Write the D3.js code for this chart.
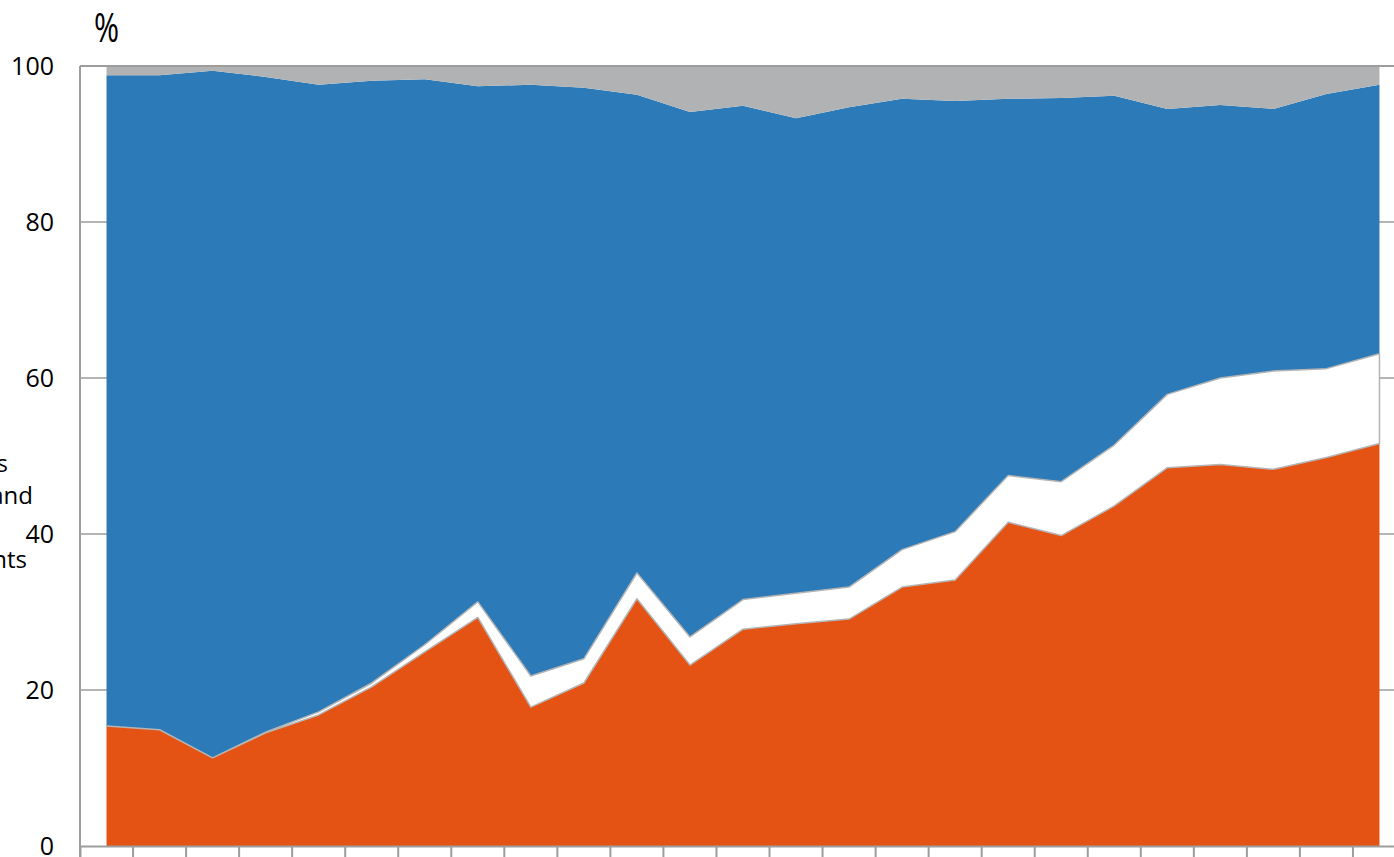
<!DOCTYPE html>
<html>
<head>
<meta charset="utf-8">
<script src="https://cdn.jsdelivr.net/npm/d3@7"></script>
<style>
  body { margin: 0; background: #fff; }
  svg { display: block; font-family: "Open Sans", sans-serif; }
</style>
</head>
<body>
<div id="chart"></div>
<script>
const years = d3.range(1995, 2020).map(String);

// layer shares in percent
const orangeShare = [15.4, 14.9, 11.3, 14.5, 16.8, 20.4, 24.9, 29.3, 17.8, 20.9, 31.7, 23.2, 27.8, 28.5, 29.1, 33.2, 34.1, 41.5, 39.8, 43.6, 48.5, 48.9, 48.3, 49.8, 51.6];
const whiteShare  = [0.0, 0.0, 0.0, 0.1, 0.4, 0.5, 0.9, 2.0, 4.0, 3.1, 3.3, 3.6, 3.8, 3.9, 4.1, 4.8, 6.2, 6.0, 6.9, 7.8, 9.4, 11.1, 12.6, 11.4, 11.5];
const blueShare   = [83.4, 83.9, 88.1, 84.0, 80.4, 77.2, 72.5, 66.1, 75.8, 73.2, 61.3, 67.3, 63.3, 60.9, 61.5, 57.8, 55.2, 48.3, 49.2, 44.8, 36.6, 35.0, 33.6, 35.2, 34.5];
const greyShare   = years.map((d, i) => +(100 - orangeShare[i] - whiteShare[i] - blueShare[i]).toFixed(1));

const yTicks = [0, 20, 40, 60, 80, 100];
const sideLabel = ["Debt securities", "Shares and", "Other instruments"];

const layers = ["orange", "white", "blue", "grey"];
const colours = {orange: "#e55314", white: "#ffffff", blue: "#2c7bb8", grey: "#b1b2b4"};

const table = years.map((y, i) => ({
  year: y, orange: orangeShare[i], white: whiteShare[i], blue: blueShare[i], grey: greyShare[i]
}));

const width = 1394;
const height = 857;
const margin = {top: 66, left: 80, bottom: 11};

const svg = d3.select("#chart").append("svg")
  .attr("width", width)
  .attr("height", height);

const x = d3.scaleBand()
  .domain(years)
  .range([margin.left, margin.left + years.length * 53.04]);

const y = d3.scaleLinear()
  .domain([0, 100])
  .range([height - margin.bottom, margin.top]);

const cx = d => x(d) + x.bandwidth() / 2;

// grid under the areas
svg.append("g")
  .selectAll("line")
  .data(yTicks.filter(t => t > 0 && t < 100))
  .join("line")
  .attr("x1", margin.left).attr("x2", width)
  .attr("y1", d => y(d)).attr("y2", d => y(d))
  .attr("stroke", "#9d9d9d").attr("stroke-width", 1.5);

const series = d3.stack().keys(layers)(table);

const area = d3.area()
  .x(d => cx(d.data.year))
  .y0(d => y(d[0]))
  .y1(d => y(d[1]));

const areas = svg.append("g");
areas.selectAll("path")
  .data(series)
  .join("path")
  .attr("d", area)
  .attr("fill", d => colours[d.key])
  .attr("stroke", d => d.key === "white" ? "#b4b4b4" : "none")
  .attr("stroke-width", 1.5)
  .attr("stroke-linejoin", "round");

// white band outline on top so its lower edge sits over the orange
areas.selectAll("path").filter(d => d.key === "white").raise();

// axes
svg.append("line")
  .attr("x1", margin.left).attr("x2", width)
  .attr("y1", y(100)).attr("y2", y(100))
  .attr("stroke", "#9d9d9d").attr("stroke-width", 2);

svg.append("line")
  .attr("x1", margin.left).attr("x2", margin.left)
  .attr("y1", y(100)).attr("y2", y(0))
  .attr("stroke", "#9d9d9d").attr("stroke-width", 2);

const xAxis = svg.append("g")
  .attr("transform", `translate(0, ${y(0)})`)
  .call(d3.axisBottom(x).tickSize(12).tickFormat(""));
xAxis.select(".domain").attr("stroke", "#9d9d9d").attr("stroke-width", 2);
xAxis.selectAll(".tick line")
  .attr("transform", `translate(${-x.bandwidth() / 2},0)`)
  .attr("stroke", "#9d9d9d").attr("stroke-width", 2);

svg.append("g")
  .selectAll("text")
  .data(yTicks)
  .join("text")
  .attr("x", 54)
  .attr("y", d => y(d))
  .attr("dy", "0.36em")
  .attr("text-anchor", "end")
  .attr("font-size", 25)
  .text(d => d);

svg.append("text")
  .attr("transform", "translate(94,42) scale(0.74,1)")
  .attr("font-size", 41)
  .text("%");

// legend text cut off at the left edge
const labelPos = [[8, 472], [33, 504], [27, 568]];
svg.append("g")
  .selectAll("text")
  .data(sideLabel)
  .join("text")
  .attr("x", (d, i) => labelPos[i][0])
  .attr("y", (d, i) => labelPos[i][1])
  .attr("text-anchor", "end")
  .attr("font-size", 24)
  .text(d => d);
</script>
</body>
</html>
